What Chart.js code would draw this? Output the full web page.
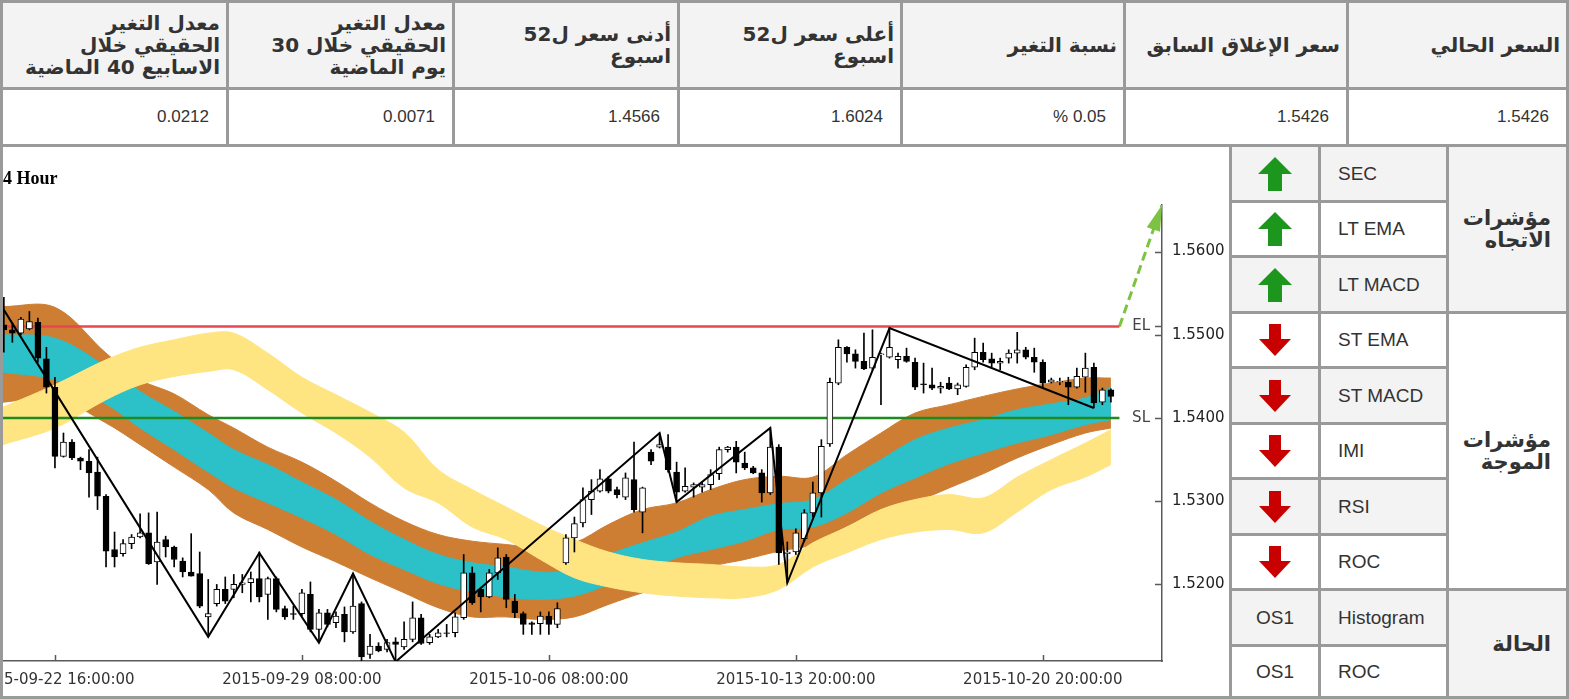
<!DOCTYPE html>
<html lang="ar">
<head>
<meta charset="utf-8">
<title>4 Hour</title>
<script src="https://cdn.jsdelivr.net/npm/chart.js@4.4.1/dist/chart.umd.min.js"></script>
<style>
  html, body { margin: 0; padding: 0; background: #fff; }
  body { width: 1569px; height: 699px; position: relative; overflow: hidden;
         font-family: "Liberation Sans", "DejaVu Sans", sans-serif; color: #333; }
  .cell { position: absolute; box-sizing: border-box; border: 3px solid #9a9a9a; background: #fff; }
  .gray { background: #f3f3f3; }
  .head { display: flex; align-items: center; justify-content: flex-start; padding-right: 6px;
          direction: rtl; text-align: right; font-family: "DejaVu Sans", sans-serif;
          font-weight: bold; font-size: 20px; line-height: 22px; }
  .val { display: flex; align-items: center; justify-content: flex-end; padding-right: 17px;
         direction: ltr; font-size: 17px; }
  .ico { display: flex; align-items: center; justify-content: center; font-size: 19px; }
  .name { display: flex; align-items: center; padding-left: 17px; font-size: 19px; }
  .grp { display: flex; align-items: center; justify-content: flex-start; padding-right: 15px;
         direction: rtl; text-align: right; font-family: "DejaVu Sans", sans-serif;
         font-weight: bold; font-size: 21px; line-height: 22px; }
  #chartBox { position: absolute; left: 3px; top: 147px; width: 1226px; height: 549px; }
</style>
</head>
<body>

<!-- الجدول العلوي -->
<div class="cell gray head" style="left:0;top:0;width:229px;height:90px"><span>معدل التغير<br>الحقيقي خلال<br>الاسابيع 40 الماضية</span></div>
<div class="cell gray head" style="left:226px;top:0;width:229px;height:90px"><span>معدل التغير<br>الحقيقي خلال 30<br>يوم الماضية</span></div>
<div class="cell gray head" style="left:452px;top:0;width:228px;height:90px"><span>أدنى سعر ل52<br>اسبوع</span></div>
<div class="cell gray head" style="left:677px;top:0;width:226px;height:90px"><span>أعلى سعر ل52<br>اسبوع</span></div>
<div class="cell gray head" style="left:900px;top:0;width:226px;height:90px"><span>نسبة التغير</span></div>
<div class="cell gray head" style="left:1123px;top:0;width:226px;height:90px"><span>سعر الإغلاق السابق</span></div>
<div class="cell gray head" style="left:1346px;top:0;width:223px;height:90px"><span>السعر الحالي</span></div>

<div class="cell val" style="left:0;top:87px;width:229px;height:60px">0.0212</div>
<div class="cell val" style="left:226px;top:87px;width:229px;height:60px">0.0071</div>
<div class="cell val" style="left:452px;top:87px;width:228px;height:60px">1.4566</div>
<div class="cell val" style="left:677px;top:87px;width:226px;height:60px">1.6024</div>
<div class="cell val" style="left:900px;top:87px;width:226px;height:60px">% 0.05</div>
<div class="cell val" style="left:1123px;top:87px;width:226px;height:60px">1.5426</div>
<div class="cell val" style="left:1346px;top:87px;width:223px;height:60px">1.5426</div>

<!-- الرسم البياني -->
<div class="cell" style="left:0;top:144px;width:1232px;height:555px"></div>
<div id="chartBox"><canvas id="priceChart" width="1226" height="549"></canvas></div>

<!-- جدول المؤشرات -->
<div id="panel"></div>

<script>
// ==================== DONNEES ====================
// bougies 4h (ouverture, plus haut, plus bas, cloture)
const candleOpen = [
  1.5512, 1.5506, 1.5502, 1.5507, 1.5515, 1.5471, 1.5437, 1.5354, 1.5371, 1.5352,
  1.5348, 1.5335, 1.5306, 1.5242, 1.5237, 1.5249, 1.5257, 1.5262, 1.5227, 1.5254,
  1.5245, 1.5228, 1.5215, 1.5213, 1.5161, 1.5177, 1.5194, 1.5194, 1.5200, 1.5202,
  1.5207, 1.5188, 1.5207, 1.5171, 1.5165, 1.5165, 1.5188, 1.5146, 1.5166, 1.5154,
  1.5164, 1.5143, 1.5177, 1.5116, 1.5126, 1.5122, 1.5131, 1.5125, 1.5134, 1.5160,
  1.5130, 1.5137, 1.5142, 1.5142, 1.5160, 1.5214, 1.5194, 1.5185, 1.5214, 1.5233,
  1.5180, 1.5165, 1.5154, 1.5153, 1.5162, 1.5152, 1.5226, 1.5256, 1.5274, 1.5302,
  1.5312, 1.5327, 1.5314, 1.5305, 1.5326, 1.5287, 1.5359, 1.5365, 1.5365, 1.5335,
  1.5312, 1.5317, 1.5317, 1.5320, 1.5333, 1.5362, 1.5365, 1.5346, 1.5340, 1.5334,
  1.5310, 1.5365, 1.5237, 1.5239, 1.5255, 1.5286, 1.5310, 1.5369, 1.5442, 1.5485,
  1.5477, 1.5468, 1.5460, 1.5476, 1.5473, 1.5470, 1.5474, 1.5467, 1.5441, 1.5440,
  1.5436, 1.5442, 1.5435, 1.5438, 1.5461, 1.5479, 1.5471, 1.5466, 1.5472, 1.5478,
  1.5482, 1.5473, 1.5467, 1.5443, 1.5443, 1.5443, 1.5437, 1.5449, 1.5461, 1.5419,
  1.5434
];
const candleHigh = [
  1.5545, 1.5514, 1.5521, 1.5528, 1.5520, 1.5485, 1.5449, 1.5382, 1.5374, 1.5353,
  1.5362, 1.5353, 1.5308, 1.5263, 1.5254, 1.5260, 1.5285, 1.5286, 1.5287, 1.5258,
  1.5246, 1.5232, 1.5261, 1.5239, 1.5206, 1.5200, 1.5209, 1.5212, 1.5212, 1.5215,
  1.5239, 1.5209, 1.5209, 1.5174, 1.5174, 1.5194, 1.5203, 1.5170, 1.5170, 1.5167,
  1.5173, 1.5213, 1.5179, 1.5140, 1.5130, 1.5134, 1.5136, 1.5155, 1.5179, 1.5164,
  1.5140, 1.5146, 1.5152, 1.5166, 1.5236, 1.5221, 1.5196, 1.5218, 1.5244, 1.5236,
  1.5188, 1.5167, 1.5155, 1.5167, 1.5167, 1.5178, 1.5260, 1.5281, 1.5316, 1.5326,
  1.5338, 1.5330, 1.5317, 1.5334, 1.5371, 1.5317, 1.5362, 1.5382, 1.5380, 1.5347,
  1.5340, 1.5322, 1.5323, 1.5338, 1.5365, 1.5366, 1.5372, 1.5359, 1.5342, 1.5338,
  1.5388, 1.5368, 1.5251, 1.5267, 1.5290, 1.5323, 1.5374, 1.5448, 1.5494, 1.5486,
  1.5482, 1.5502, 1.5506, 1.5478, 1.5508, 1.5478, 1.5484, 1.5472, 1.5466, 1.5460,
  1.5443, 1.5449, 1.5442, 1.5464, 1.5496, 1.5490, 1.5478, 1.5472, 1.5482, 1.5503,
  1.5485, 1.5484, 1.5470, 1.5448, 1.5448, 1.5449, 1.5460, 1.5478, 1.5466, 1.5436,
  1.5435
];
const candleLow = [
  1.5479, 1.5491, 1.5500, 1.5506, 1.5467, 1.5430, 1.5340, 1.5353, 1.5350, 1.5338,
  1.5305, 1.5290, 1.5221, 1.5221, 1.5234, 1.5243, 1.5256, 1.5224, 1.5200, 1.5233,
  1.5221, 1.5209, 1.5210, 1.5172, 1.5137, 1.5174, 1.5177, 1.5184, 1.5190, 1.5179,
  1.5179, 1.5158, 1.5167, 1.5158, 1.5158, 1.5162, 1.5143, 1.5130, 1.5149, 1.5148,
  1.5131, 1.5141, 1.5107, 1.5111, 1.5119, 1.5119, 1.5107, 1.5122, 1.5131, 1.5128,
  1.5128, 1.5136, 1.5137, 1.5137, 1.5158, 1.5176, 1.5167, 1.5184, 1.5206, 1.5172,
  1.5160, 1.5140, 1.5140, 1.5140, 1.5140, 1.5148, 1.5224, 1.5239, 1.5269, 1.5284,
  1.5311, 1.5310, 1.5304, 1.5302, 1.5287, 1.5262, 1.5344, 1.5364, 1.5335, 1.5299,
  1.5311, 1.5305, 1.5311, 1.5314, 1.5326, 1.5359, 1.5334, 1.5338, 1.5333, 1.5299,
  1.5308, 1.5224, 1.5202, 1.5236, 1.5252, 1.5281, 1.5281, 1.5366, 1.5440, 1.5467,
  1.5460, 1.5458, 1.5458, 1.5416, 1.5472, 1.5460, 1.5467, 1.5434, 1.5430, 1.5434,
  1.5430, 1.5434, 1.5428, 1.5437, 1.5458, 1.5467, 1.5461, 1.5458, 1.5466, 1.5466,
  1.5471, 1.5455, 1.5436, 1.5442, 1.5440, 1.5416, 1.5436, 1.5431, 1.5412, 1.5416,
  1.5419
];
const candleClose = [
  1.5506, 1.5502, 1.5519, 1.5516, 1.5472, 1.5437, 1.5354, 1.5371, 1.5352, 1.5348,
  1.5334, 1.5306, 1.5240, 1.5233, 1.5249, 1.5257, 1.5262, 1.5225, 1.5251, 1.5245,
  1.5230, 1.5215, 1.5210, 1.5174, 1.5165, 1.5194, 1.5180, 1.5200, 1.5202, 1.5207,
  1.5185, 1.5207, 1.5170, 1.5161, 1.5164, 1.5190, 1.5146, 1.5166, 1.5152, 1.5162,
  1.5143, 1.5174, 1.5113, 1.5126, 1.5120, 1.5130, 1.5128, 1.5134, 1.5160, 1.5129,
  1.5137, 1.5142, 1.5141, 1.5161, 1.5214, 1.5178, 1.5185, 1.5214, 1.5232, 1.5182,
  1.5166, 1.5152, 1.5152, 1.5162, 1.5152, 1.5171, 1.5256, 1.5273, 1.5302, 1.5312,
  1.5327, 1.5312, 1.5308, 1.5328, 1.5290, 1.5316, 1.5348, 1.5368, 1.5338, 1.5311,
  1.5318, 1.5320, 1.5320, 1.5332, 1.5362, 1.5365, 1.5347, 1.5340, 1.5334, 1.5310,
  1.5365, 1.5238, 1.5239, 1.5262, 1.5286, 1.5310, 1.5366, 1.5443, 1.5485, 1.5477,
  1.5468, 1.5459, 1.5473, 1.5477, 1.5485, 1.5474, 1.5468, 1.5437, 1.5440, 1.5436,
  1.5438, 1.5435, 1.5440, 1.5461, 1.5479, 1.5470, 1.5466, 1.5468, 1.5478, 1.5482,
  1.5473, 1.5467, 1.5442, 1.5446, 1.5444, 1.5437, 1.5450, 1.5460, 1.5418, 1.5434,
  1.5426
];

// axe des temps : graduations (index de bougie) et libelles
const xTickIdx = [6, 35, 64, 93, 122];
const xTickLabels = ['2015-09-22 16:00:00', '2015-09-29 08:00:00', '2015-10-06 08:00:00',
                     '2015-10-13 20:00:00', '2015-10-20 20:00:00'];
const yTicks = [1.52, 1.53, 1.54, 1.55, 1.56];

// bandes (orange / cyan / jaune), lues tous les ~4 bougies
const bandIdx = [-0.1, 6, 12, 16, 20, 24, 27, 31, 35, 39, 43, 47, 51, 55, 59, 63, 67,
                 71, 75, 79, 83, 87, 91, 95, 99, 103, 107, 111, 115, 119, 123, 127, 130];
const orangeTop = [1.5534, 1.5533, 1.5478, 1.5446, 1.5429, 1.5404, 1.5388, 1.5365, 1.5347, 1.5324,
  1.5298, 1.5276, 1.5260, 1.5252, 1.5248, 1.5244, 1.5250, 1.5272, 1.5290, 1.5298,
  1.5314, 1.5326, 1.5330, 1.5329, 1.5356, 1.5382, 1.5406, 1.5416, 1.5426, 1.5435,
  1.5442, 1.5448, 1.5448];
const cyanTop = [1.5500, 1.5496, 1.5462, 1.5432, 1.5408, 1.5382, 1.5362, 1.5344, 1.5323, 1.5302,
  1.5276, 1.5254, 1.5236, 1.5226, 1.5221, 1.5215, 1.5218, 1.5236, 1.5250, 1.5263,
  1.5282, 1.5290, 1.5297, 1.5302, 1.5326, 1.5350, 1.5374, 1.5388, 1.5398, 1.5410,
  1.5417, 1.5424, 1.5437];
const cyanBottom = [1.5455, 1.5446, 1.5417, 1.5388, 1.5362, 1.5335, 1.5316, 1.5298, 1.5280, 1.5260,
  1.5236, 1.5218, 1.5201, 1.5191, 1.5185, 1.5182, 1.5186, 1.5200, 1.5215, 1.5232,
  1.5242, 1.5252, 1.5266, 1.5269, 1.5286, 1.5310, 1.5328, 1.5345, 1.5358, 1.5370,
  1.5380, 1.5392, 1.5398];
const orangeBottom = [1.5419, 1.5424, 1.5394, 1.5368, 1.5341, 1.5314, 1.5286, 1.5266, 1.5245, 1.5227,
  1.5208, 1.5190, 1.5172, 1.5161, 1.5161, 1.5158, 1.5161, 1.5176, 1.5190, 1.5202,
  1.5221, 1.5230, 1.5240, 1.5248, 1.5270, 1.5287, 1.5299, 1.5316, 1.5333, 1.5352,
  1.5368, 1.5382, 1.5388];
const yellowTop = [1.5413, 1.5440, 1.5470, 1.5485, 1.5494, 1.5502, 1.5502, 1.5478, 1.5449, 1.5428,
  1.5407, 1.5383, 1.5338, 1.5314, 1.5293, 1.5272, 1.5254, 1.5239, 1.5230, 1.5226,
  1.5224, 1.5221, 1.5224, 1.5250, 1.5269, 1.5290, 1.5302, 1.5308, 1.5304, 1.5329,
  1.5350, 1.5370, 1.5386];
const yellowBottom = [1.5368, 1.5388, 1.5422, 1.5440, 1.5450, 1.5456, 1.5458, 1.5434, 1.5406, 1.5382,
  1.5353, 1.5316, 1.5298, 1.5269, 1.5254, 1.5230, 1.5208, 1.5197, 1.5190, 1.5186,
  1.5184, 1.5184, 1.5194, 1.5221, 1.5238, 1.5254, 1.5263, 1.5266, 1.5262, 1.5287,
  1.5314, 1.5329, 1.5344];

// vague (zigzag) : sommets
const zigIdx = [0, 24, 30, 37, 41, 46, 77, 79, 90, 92, 104, 128];
const zigVal = [1.5530, 1.5137, 1.5238, 1.5130, 1.5213, 1.5107, 1.5382, 1.5299, 1.5388, 1.5202, 1.5508, 1.5412];

// niveaux EL / SL et fleche d'objectif
const entryLevel = 1.5510;
const stopLevel = 1.5400;
const levelEnd = 131;
const targetPoint = [136, 1.5656];

// tableau des indicateurs
const panelIcons = ['up', 'up', 'up', 'down', 'down', 'down', 'down', 'down', 'OS1', 'OS1'];
const panelNames = ['SEC', 'LT EMA', 'LT MACD', 'ST EMA', 'ST MACD', 'IMI', 'RSI', 'ROC', 'Histogram', 'ROC'];
const panelGroups = [
  { label: 'مؤشرات<br>الاتجاه', from: 0, to: 2, gray: true },
  { label: 'مؤشرات<br>الموجة', from: 3, to: 7, gray: false },
  { label: 'الحالة', from: 8, to: 9, gray: true }
];

// ==================== TABLEAU DES INDICATEURS ====================
const rowTop = k => Math.round(144 + k * 55.5);
const upSvg = '<svg width="34" height="34" viewBox="0 0 34 34"><polygon points="17,0 34,17 24,17 24,34 10,34 10,17 0,17" fill="#1d961d"/></svg>';
const downSvg = '<svg width="32" height="32" viewBox="0 0 32 32"><polygon points="10,0 22,0 22,15 32,15 16,32 0,15 10,15" fill="#c80000"/></svg>';
let html = '';
panelNames.forEach((name, k) => {
  const top = rowTop(k), h = Math.min(rowTop(k + 1) - top + 3, 699 - top);
  const bg = k % 2 === 0 ? ' gray' : '';
  const icon = panelIcons[k] === 'up' ? upSvg : panelIcons[k] === 'down' ? downSvg : panelIcons[k];
  html += `<div class="cell ico${bg}" style="left:1229px;top:${top}px;width:92px;height:${h}px">${icon}</div>`;
  html += `<div class="cell name${bg}" style="left:1318px;top:${top}px;width:131px;height:${h}px">${name}</div>`;
});
panelGroups.forEach(g => {
  const top = rowTop(g.from), bottom = Math.min(rowTop(g.to + 1) + 3, 699);
  html += `<div class="cell grp${g.gray ? ' gray' : ''}" style="left:1446px;top:${top}px;width:123px;height:${bottom - top}px"><span>${g.label}</span></div>`;
});
document.getElementById('panel').innerHTML = html;

// ==================== GRAPHIQUE ====================
Chart.defaults.font.family = "'DejaVu Sans', sans-serif";

const idx = candleOpen.map((_, i) => i);
const pts = (xs, ys) => xs.map((x, k) => ({ x: x, y: ys[k] }));
const band = (ys, color, fillTo, order) => ({
  type: 'line', data: pts(bandIdx, ys), borderColor: color, backgroundColor: color,
  borderWidth: 1, pointRadius: 0, tension: 0.35, fill: fillTo, order: order
});

// graduations interieures, libelles EL/SL et pointe de fleche
const overlay = {
  id: 'overlay',
  afterDraw(chart) {
    const { ctx, chartArea: a, scales: { x, y } } = chart;
    ctx.save();
    ctx.strokeStyle = '#5a5a5a';
    ctx.lineWidth = 1.5;
    ctx.beginPath();
    yTicks.concat([entryLevel]).forEach(v => {
      const py = Math.round(y.getPixelForValue(v)) + 0.5;
      ctx.moveTo(a.right - 7, py); ctx.lineTo(a.right, py);
    });
    xTickIdx.forEach(i => {
      const px = Math.round(x.getPixelForValue(i)) + 0.5;
      ctx.moveTo(px, a.bottom); ctx.lineTo(px, a.bottom - 6);
    });
    ctx.stroke();

    ctx.fillStyle = '#444';
    ctx.font = "15px 'DejaVu Sans'";
    ctx.textAlign = 'right';
    ctx.textBaseline = 'middle';
    ctx.fillText('EL', a.right - 12, y.getPixelForValue(entryLevel));
    ctx.fillText('SL', a.right - 12, y.getPixelForValue(stopLevel));

    // pointe de la fleche verte
    const fx = x.getPixelForValue(levelEnd), fy = y.getPixelForValue(entryLevel);
    const tx = x.getPixelForValue(targetPoint[0]), ty = y.getPixelForValue(targetPoint[1]);
    const len = Math.hypot(tx - fx, ty - fy);
    const ux = (tx - fx) / len, uy = (ty - fy) / len;
    const bx = tx - ux * 26, by = ty - uy * 26;
    ctx.fillStyle = '#7dc242';
    ctx.beginPath();
    ctx.moveTo(tx, ty);
    ctx.lineTo(bx - uy * 7, by + ux * 7);
    ctx.lineTo(bx + uy * 7, by - ux * 7);
    ctx.closePath();
    ctx.fill();
    ctx.restore();
  }
};

const chart = new Chart(document.getElementById('priceChart'), {
  type: 'bar',
  data: {
    datasets: [
      // 0 : vague
      { type: 'line', data: pts(zigIdx, zigVal), borderColor: '#000', borderWidth: 2,
        pointRadius: 0, tension: 0, fill: false, order: 0 },
      // 1 : corps des bougies
      { type: 'bar', data: idx.map(i => ({ x: i, y: [candleOpen[i], candleClose[i]] })),
        backgroundColor: idx.map(i => candleClose[i] >= candleOpen[i] ? '#fff' : '#000'),
        borderColor: '#000', borderWidth: 1, borderSkipped: false,
        barThickness: 6, grouped: false, order: 1 },
      // 2 : meches
      { type: 'bar', data: idx.map(i => ({ x: i, y: [candleLow[i], candleHigh[i]] })),
        backgroundColor: '#000', borderWidth: 0, barThickness: 1, grouped: false, order: 2 },
      // 3 : EL
      { type: 'line', data: [{ x: -0.1, y: entryLevel }, { x: levelEnd, y: entryLevel }],
        borderColor: '#e8474f', borderWidth: 2.5, pointRadius: 0, fill: false, order: 3 },
      // 4 : SL
      { type: 'line', data: [{ x: -0.1, y: stopLevel }, { x: levelEnd, y: stopLevel }],
        borderColor: '#1f8a1f', borderWidth: 2.5, pointRadius: 0, fill: false, order: 4 },
      // 5 : fleche pointillee
      { type: 'line', data: [{ x: levelEnd, y: entryLevel }, { x: targetPoint[0], y: targetPoint[1] }],
        borderColor: '#7dc242', borderWidth: 3, borderDash: [9, 5], pointRadius: 0, fill: false, order: 3 },
      // 6..11 : bandes
      band(yellowTop, '#fee582', 7, 6),
      band(yellowBottom, '#fee582', false, 7),
      band(cyanTop, '#2cc0c8', 9, 8),
      band(cyanBottom, '#2cc0c8', false, 9),
      band(orangeTop, '#cd7e33', 11, 10),
      band(orangeBottom, '#cd7e33', false, 11)
    ]
  },
  options: {
    responsive: false,
    animation: false,
    devicePixelRatio: 1,
    layout: { padding: 0 },
    plugins: {
      legend: { display: false },
      tooltip: { enabled: false },
      title: {
        display: true, text: '4 Hour', align: 'start', color: '#000',
        font: { family: "'Liberation Serif', serif", size: 18, weight: 'bold' },
        padding: { top: 22, bottom: 14.4 }
      }
    },
    scales: {
      x: {
        type: 'linear', min: -0.1, max: 136, offset: false,
        afterBuildTicks: s => { s.ticks = xTickIdx.map(v => ({ value: v })); },
        afterFit: s => { s.height = 35; s.paddingLeft = 0; s.paddingRight = 0; },
        ticks: { callback: (v, i) => xTickLabels[i], autoSkip: false, maxRotation: 0,
                 padding: 10, color: '#333', font: { size: 15 } },
        grid: { display: false, drawTicks: false, offset: false },
        border: { display: true, color: '#5a5a5a', width: 1.5 }
      },
      y: {
        position: 'right', min: 1.5108, max: 1.5656,
        afterBuildTicks: s => { s.ticks = yTicks.map(v => ({ value: v })); },
        afterFit: s => { s.width = 67; },
        ticks: { callback: v => v.toFixed(4), padding: 10, color: '#222', font: { size: 15 } },
        grid: { display: false, drawTicks: false },
        border: { display: true, color: '#5a5a5a', width: 1.5 }
      }
    }
  },
  plugins: [overlay]
});
</script>
</body>
</html>
